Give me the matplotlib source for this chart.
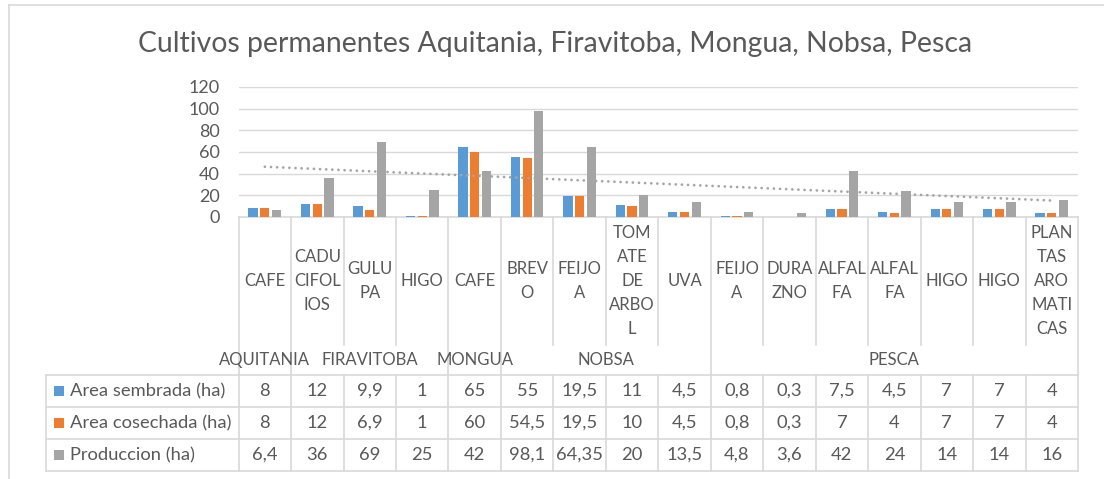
import numpy as np
import matplotlib.pyplot as plt
import matplotlib.transforms as mtransforms
from matplotlib.lines import Line2D
from matplotlib.patches import Rectangle

plt.rcParams['font.family'] = ['Lato', 'DejaVu Sans']

# data (labels wrapped like the original)
categories = ["CAFE", "CADU\nCIFOL\nIOS", "GULU\nPA", "HIGO", "CAFE", "BREV\nO",
              "FEIJO\nA", "TOM\nATE\nDE\nARBO\nL", "UVA", "FEIJO\nA", "DURA\nZNO",
              "ALFAL\nFA", "ALFAL\nFA", "HIGO", "HIGO", "PLAN\nTAS\nARO\nMATI\nCAS"]
groups = ["AQUITANIA", "FIRAVITOBA", "MONGUA", "NOBSA", "PESCA"]
group_first = [0, 1, 4, 5, 9]
group_last = [0, 3, 4, 8, 15]
series_names = ["Area sembrada (ha)", "Area cosechada (ha)", "Produccion (ha)"]
area_sembrada = [8, 12, 9.9, 1, 65, 55, 19.5, 11, 4.5, 0.8, 0.3, 7.5, 4.5, 7, 7, 4]
area_cosechada = [8, 12, 6.9, 1, 60, 54.5, 19.5, 10, 4.5, 0.8, 0.3, 7, 4, 7, 7, 4]
produccion = [6.4, 36, 69, 25, 42, 98.1, 64.35, 20, 13.5, 4.8, 3.6, 42, 24, 14, 14, 16]
title = "Cultivos permanentes Aquitania, Firavitoba, Mongua, Nobsa, Pesca"

colors = ['#5b9bd5', '#ed7d31', '#a5a5a5']
txt = '#595959'
line_c = '#d9d9d9'
fs_cat = 12.0   # category / group labels (upper case)
fs_tab = 13.2   # table text

W, H = 1104, 479
fig = plt.figure(figsize=(W / 100, H / 100), dpi=100)

# plot area (pixels): left 238.6, right 1078, top 87, bottom 217
pl, pr, pt, pb = 238.6, 1078.0, 87.0, 217.0
ax = fig.add_axes([pl / W, 1 - pb / H, (pr - pl) / W, (pb - pt) / H])

n = len(categories)
x = np.arange(n)
bw = 0.177
step = 0.223
for k, vals in enumerate([area_sembrada, area_cosechada, produccion]):
    ax.bar(x + (k - 1) * step, vals, bw, color=colors[k], zorder=3)

# linear trend of production
coef = np.polyfit(x, produccion, 1)
ax.plot(x, np.polyval(coef, x), color='#a5a5a5', lw=2, linestyle=(0, (0.01, 2.2)),
        dash_capstyle='round', zorder=4)

ax.set_xlim(-0.5, n - 0.5)
ax.set_ylim(0, 120)
ax.set_yticks(range(0, 121, 20))
ax.set_xticks([])
ax.yaxis.grid(True, color=line_c, lw=1)
ax.set_axisbelow(True)
for s in ax.spines.values():
    s.set_visible(False)
ax.tick_params(axis='y', length=0, pad=13.7, labelsize=13, labelcolor=txt)

# helpers: pixel -> data x / axes y
cw = (pr - pl) / n
def px2x(px):
    return -0.5 + (px - pl) / cw
def py2y(py):
    return (pb - py) / (pb - pt)

trans = mtransforms.blended_transform_factory(ax.transData, ax.transAxes)

def hline(x0, x1, y):
    ax.add_line(Line2D([x0, x1], [y, y], transform=trans, clip_on=False, color=line_c, lw=1.2))

def vline(xv, y0, y1):
    ax.add_line(Line2D([xv, xv], [y0, y1], transform=trans, clip_on=False, color=line_c, lw=1.2))

label_bot = py2y(345)
table_top = py2y(375)
rows_y = [py2y(375), py2y(407), py2y(439), py2y(471)]
xl = px2x(46.4)

# category label area
hline(-0.5, n - 0.5, 0)
bounds = set([-0.5, n - 0.5] + [g + 0.5 for g in group_last])
for b in np.arange(-0.5, n, 1.0):
    vline(b, 0, table_top if b in bounds else label_bot)
for i, lab in enumerate(categories):
    ax.text(i, py2y(281), lab, transform=trans, ha='center', va='center',
            fontsize=fs_cat, color=txt, linespacing=1.6)
for g, f, l in zip(groups, group_first, group_last):
    ax.text((f + l) / 2, py2y(360), g, transform=trans, ha='center', va='center',
            fontsize=fs_cat, color=txt)

# data table
for ry in rows_y:
    hline(xl, n - 0.5, ry)
for b in [xl] + list(np.arange(-0.5, n, 1.0)):
    vline(b, rows_y[0], rows_y[-1])
for r, vals in enumerate([area_sembrada, area_cosechada, produccion]):
    yc = (rows_y[r] + rows_y[r + 1]) / 2
    sq = 10.5
    ax.add_patch(Rectangle((px2x(53.6), yc - sq / 2 / (pb - pt)), sq / cw, sq / (pb - pt),
                           transform=trans, clip_on=False, color=colors[r], lw=0))
    ax.text(px2x(69.6), yc, series_names[r], transform=trans, ha='left', va='center',
            fontsize=fs_tab, color=txt)
    for i, v in enumerate(vals):
        ax.text(i, yc, ('%g' % v).replace('.', ','), transform=trans, ha='center',
                va='center', fontsize=fs_tab, color=txt)

# chart area border (left and top are visible)
fig.add_artist(Line2D([8.6 / W, 8.6 / W], [0, 1 - 5 / H], transform=fig.transFigure, color=line_c, lw=1.2))
fig.add_artist(Line2D([8.6 / W, 1], [1 - 5 / H, 1 - 5 / H], transform=fig.transFigure, color=line_c, lw=1.2))

fig.text(555 / W, 1 - 52 / H, title, ha='center', va='baseline', fontsize=20.4, color=txt)

fig.savefig('out.png', dpi=100)
